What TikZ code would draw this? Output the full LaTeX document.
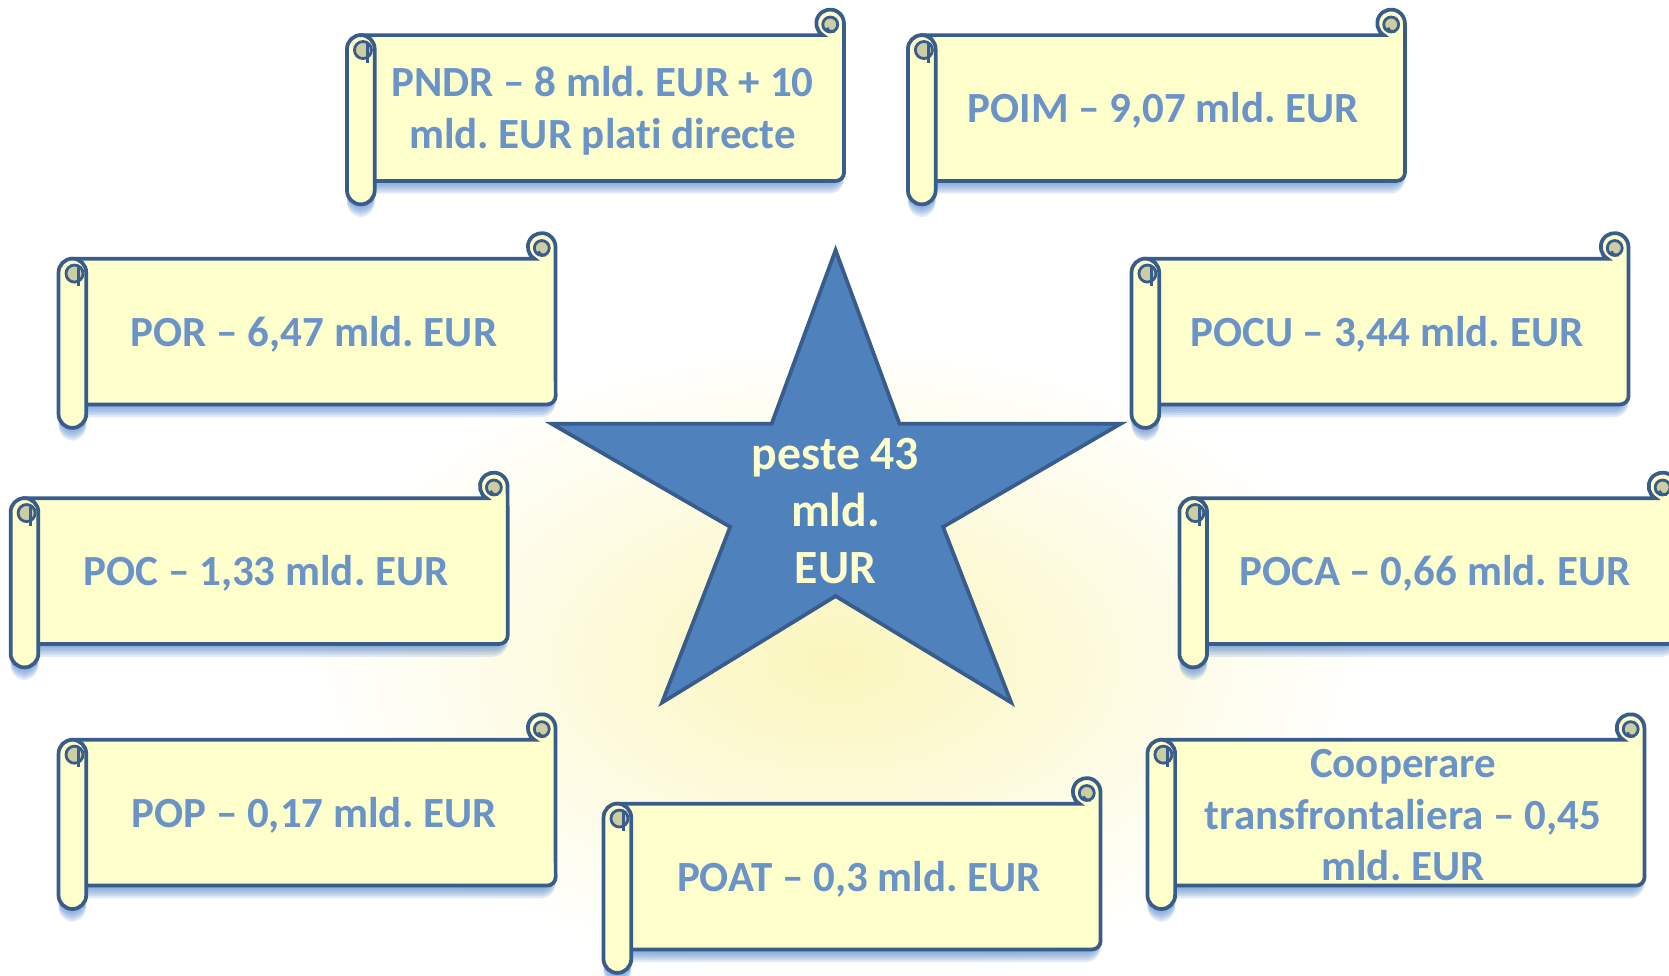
\documentclass[tikz,border=0pt]{standalone}
\usepackage{fontspec}
\setmainfont{Carlito}[Ligatures=NoCommon]
\frenchspacing

\definecolor{hartie}{HTML}{FFFFCC}
\definecolor{contur}{HTML}{385D8A}
\definecolor{scris}{HTML}{6A94C8}
\definecolor{miez}{HTML}{CDCDA4}
\definecolor{umbra}{HTML}{4A7EC8}
\definecolor{albastru}{HTML}{4F81BD}
\definecolor{lumina}{HTML}{FBF6BC}

% sul de hartie: #1 nume, #2 x stanga, #3 y sus, #4 text
\newcommand{\pergament}[4]{%
    \foreach \d in {2,4,...,12}
        \fill[umbra, opacity=0.16, rounded corners=8] ({#2+13},{#3+\d}) rectangle ({#2+467},{#3+137+\d})
            ({#2},{#3+\d}) rectangle ({#2+26},{#3+159+\d});
    \draw[corp] ({#2+13},{#3}) -- ({#2+447},{#3}) arc[start angle=122, end angle=360, radius=13]
        -- ({#2+467},{#3+129}) arc[start angle=0, end angle=90, radius=8] -- ({#2+13},{#3+137}) -- cycle;
    \draw[miez] ({#2+454},{#3-10}) circle (7);
    \draw[contur, line width=1.5pt] ({#2+451},{#3-7}) arc[start angle=180, end angle=90, radius=3.5] -- ({#2+458},{#3-3.5});
    \draw[corp] ({#2},{#3+13}) arc[start angle=180, end angle=360, radius=13]
        -- ({#2+26},{#3+146}) arc[start angle=0, end angle=180, radius=13] -- cycle;
    \draw[miez] ({#2+15},{#3+14}) circle (8);
    \draw[contur, line width=1.5pt] ({#2+19},{#3+8}) -- ({#2+19},{#3+26});
    \node[eticheta] (#1) at ({#2+240},{#3+71}) {#4};
}

\begin{document}
\begin{tikzpicture}[
        x=0.02cm, y=-0.02cm,
        corp/.style={draw=contur, fill=hartie, line width=2pt},
        miez/.style={draw=contur, fill=miez, line width=1.5pt},
        eticheta/.style={text=scris, font=\fontsize{23}{27.5}\selectfont\bfseries, align=center},
        stea/.style={draw=contur, fill=albastru, line width=2pt, line join=miter},
        centru/.style={text=hartie, font=\fontsize{25.5}{30.5}\selectfont\bfseries, align=center},
    ]
    \useasboundingbox (0,0) rectangle (1568,916);

    % lumina de sub stea
    \shade[inner color=lumina, outer color=white] (785,620) ellipse (500 and 300);

    \pergament{pndr}{326}{33}{PNDR – 8 mld. EUR + 10\\mld. EUR plati directe}
    \pergament{poim}{853}{33}{POIM – 9,07 mld. EUR}
    \pergament{por}{55}{243}{POR – 6,47 mld. EUR}
    \pergament{pocu}{1063}{243}{POCU – 3,44 mld. EUR}
    \pergament{poc}{10}{468}{POC – 1,33 mld. EUR}
    \pergament{poca}{1108}{468}{POCA – 0,66 mld. EUR}
    \pergament{pop}{55}{695}{POP – 0,17 mld. EUR}
    \pergament{poat}{567}{755}{POAT – 0,3 mld. EUR}
    \pergament{ct}{1078}{695}{Cooperare\\transfrontaliera – 0,45\\mld. EUR}

    \draw[stea] (785,235) -- (845,398) -- (1053,398) -- (886,495) -- (950,660) -- (785,560)
        -- (622,660) -- (686,495) -- (518,398) -- (725,398) -- cycle;
    \node[centru] (total) at (785,480) {peste 43\\mld.\\EUR};
\end{tikzpicture}
\end{document}
